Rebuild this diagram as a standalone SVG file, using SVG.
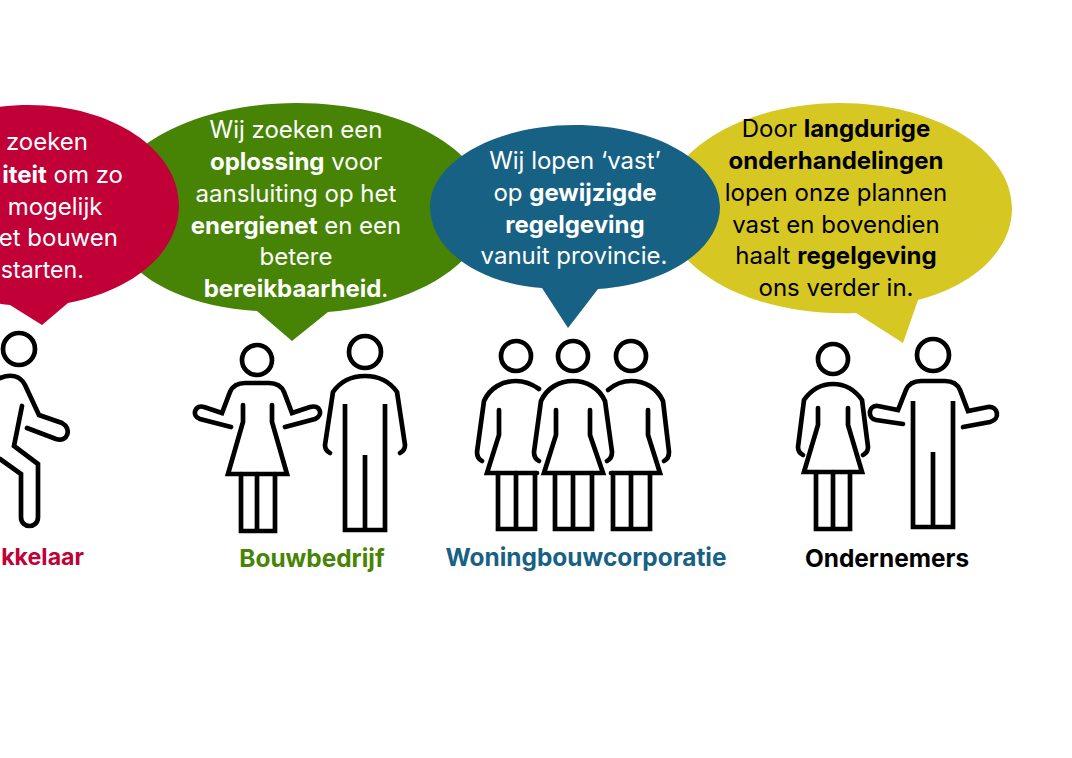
<svg xmlns="http://www.w3.org/2000/svg" width="1072" height="758" viewBox="0 0 1072 758">
<style>
text{font-family:"Inter","Liberation Sans",sans-serif;font-size:24px;text-anchor:middle}
.w{fill:#fff}.k{fill:#000}
.b{font-weight:700}
.lab{font-size:24.4px;font-weight:700}
.e{text-anchor:end}
.fit{font-size:23.2px}
.fig{fill:none;stroke:#000;stroke-width:4.7;stroke-linejoin:miter;stroke-linecap:round}
</style>
<defs>
<g id="manInner">
<path d="M-20 402V528H20V402M0 453V528" stroke-linecap="butt"/>
</g>
</defs>

<g id="bubble-bouwbedrijf">
<path fill="#478405" d="M297 103C402 103 487 150 487 208C487 265 410 306 328 312L292 341L257 311C170 306 107 265 107 208C107 150 192 103 297 103Z"/>
</g>
<g id="bubble-projectontwikkelaar">
<path fill="#c10037" d="M29 105C112 105 179 150 179 205C179 255 130 291 68 303L42 325L10 305C-50 300 -121 260 -121 205C-121 150 -54 105 29 105Z"/>
</g>
<g id="bubble-ondernemers">
<path fill="#d6c722" d="M840 103C935 103 1012 150 1012 208C1012 250 975 285 918 300L903 343L856 313C745 317 664 265 664 208C664 150 745 103 840 103Z"/>
</g>
<g id="bubble-woningbouwcorporatie">
<path fill="#176184" d="M575 125C655 125 720 162 720 207C720 250 665 285 598 289L568 328L542 288C480 284 430 250 430 207C430 162 495 125 575 125Z"/>
</g>

<g id="text-projectontwikkelaar" class="w">
<text x="47" y="150">zoeken</text>
<text x="123" y="183" class="e"><tspan class="b">iteit</tspan> om zo</text>
<text x="55" y="215">mogelijk</text>
<text x="118" y="246" class="e">et bouwen</text>
<text x="84" y="278" class="e fit">starten.</text>
</g>
<g id="text-bouwbedrijf" class="w">
<text x="296" y="138">Wij zoeken een</text>
<text x="296" y="170"><tspan class="b">oplossing</tspan> voor</text>
<text x="296" y="202">aansluiting op het</text>
<text x="296" y="234"><tspan class="b">energienet</tspan> en een</text>
<text x="296" y="265">betere</text>
<text x="296" y="297"><tspan class="b">bereikbaarheid</tspan>.</text>
</g>
<g id="text-woningbouwcorporatie" class="w">
<text x="575" y="169">Wij lopen ‘vast’</text>
<text x="575" y="201">op <tspan class="b">gewijzigde</tspan></text>
<text x="575" y="233" class="b">regelgeving</text>
<text x="574" y="264">vanuit provincie.</text>
</g>
<g id="text-ondernemers" class="k">
<text x="836" y="137">Door <tspan class="b">langdurige</tspan></text>
<text x="836" y="169" class="b">onderhandelingen</text>
<text x="836" y="201">lopen onze plannen</text>
<text x="836" y="233">vast en bovendien</text>
<text x="836" y="264">haalt <tspan class="b">regelgeving</tspan></text>
<text x="836" y="296">ons verder in.</text>
</g>

<g id="figure-projectontwikkelaar" class="fig">
<circle cx="19" cy="349" r="16"/>
<path d="M0 378C10 374 20 375 25 385L39 415L62 423C72 428 68 443 56 439L27 428"/>
<path d="M22 406L14 446L38 464V517C38 529 21 529 21 517V474L0 459"/>
</g>
<g id="figure-bouwbedrijf" class="fig">
<circle cx="257" cy="360" r="15"/>
<path d="M231 427L200 419C191 416 195 404 204 407L222 413L230 392C233 385 238 383 245 383H269C276 383 281 385 284 392L292 413L310 407C320 404 324 415 315 419L285 427"/>
<path d="M243 405V422L228 474H287L272 422V405"/>
<path d="M241 474V531H275V474M257 474V531"/>
<circle cx="365" cy="352" r="16"/>
<path d="M330 453C326 451 325 448 325 445L333 392C340 382 350 376 365 376C380 376 390 382 397 392L405 445C405 448 404 451 400 453"/>
<use href="#manInner" x="365" y="2"/>
</g>
<g id="figure-woningbouwcorporatie" class="fig">
<circle cx="516" cy="356" r="15"/>
<circle cx="573" cy="356" r="15"/>
<circle cx="631" cy="356" r="15"/>
<path d="M482 461C478 459 477 456 477 452L484 401C490 388 502 381 516 381C525 381 532 384 539 389"/>
<path d="M539 461C535 459 534 456 534 452L541 401C547 388 559 381 573 381C587 381 599 388 605 401L612 452C612 456 611 459 607 461"/>
<path d="M608 390C615 384 622 381 631 381C645 381 657 388 663 401L669 452C669 456 668 459 664 461"/>
<path d="M499 410V435L487 473H537"/>
<path d="M556 410V435L544 473H603L590 435V410"/>
<path d="M648 410V435L660 473H611"/>
<path d="M498 473V529H535V473M516 473V529"/>
<path d="M555 473V529H592V473M573 473V529"/>
<path d="M613 473V529H650V473M631 473V529"/>
</g>
<g id="figure-ondernemers" class="fig">
<circle cx="833" cy="359" r="15"/>
<path d="M803 455C799 453 798 450 798 447L804 400C811 390 820 384 833 384C846 384 855 390 862 400L868 447C868 450 867 453 863 455"/>
<path d="M818 408V425L804 472H862L848 425V408"/>
<path d="M816 472V529H850V472M833 472V529"/>
<circle cx="933" cy="355" r="16"/>
<path d="M903 424L876 420C867 418 868 405 878 406L898 410L906 390C909 383 914 381 921 381H945C952 381 957 383 960 390L968 411L988 407C998 406 1001 419 990 422L963 427"/>
<use href="#manInner" x="933" y="-1"/>
</g>

<g id="labels">
<text x="84" y="565" class="lab e fit" fill="#c10037">kkelaar</text>
<text x="312" y="567" class="lab" fill="#478405">Bouwbedrijf</text>
<text x="586" y="566" class="lab" fill="#176184">Woningbouwcorporatie</text>
<text x="887" y="567" class="lab" fill="#000">Ondernemers</text>
</g>
</svg>
